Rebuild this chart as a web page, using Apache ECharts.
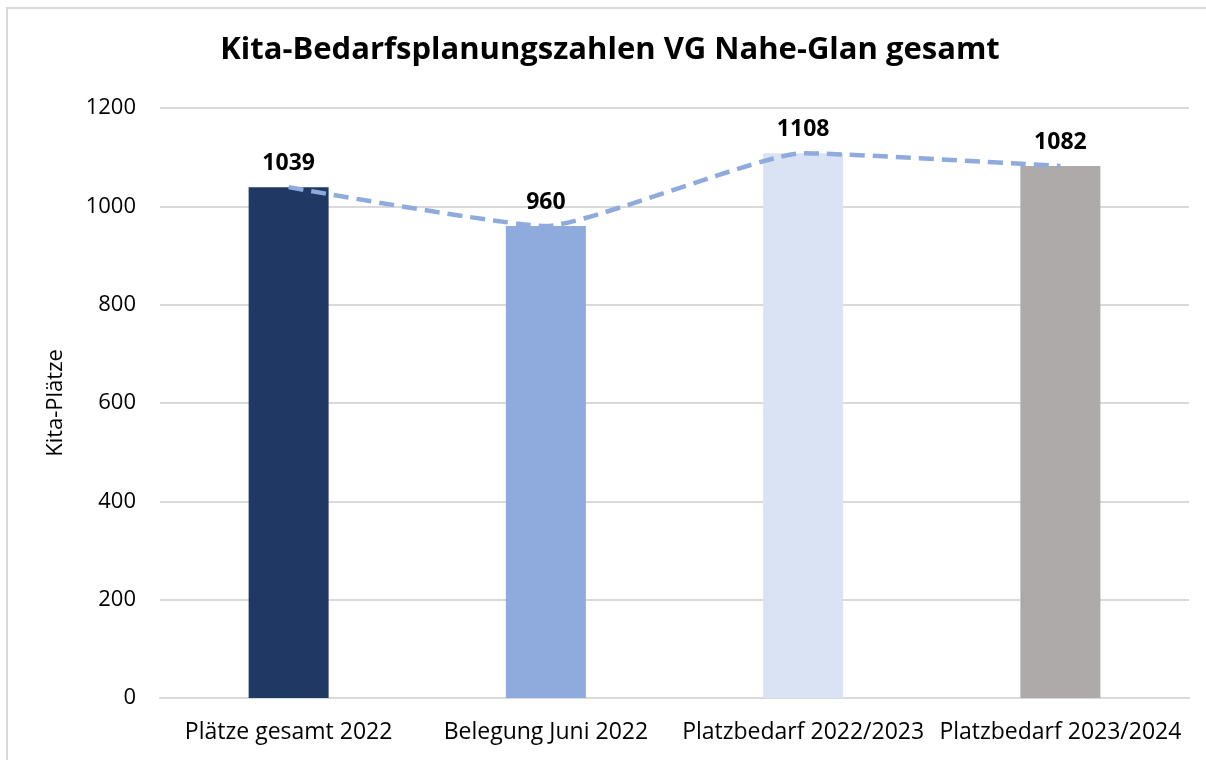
<!DOCTYPE html>
<html>
<head>
<meta charset="utf-8">
<script src="https://cdn.jsdelivr.net/npm/echarts@6/dist/echarts.min.js"></script>
<style>
  html, body { margin: 0; padding: 0; background: #fff; }
  #chart { width: 1206px; height: 760px; }
</style>
</head>
<body>
<div id="chart"></div>
<script>
  // data
  var categories = ['Plätze gesamt 2022', 'Belegung Juni 2022', 'Platzbedarf 2022/2023', 'Platzbedarf 2023/2024'];
  var placeValues = [1039, 960, 1108, 1082];
  var trendValues = [1039, 960, 1108, 1082];
  var yTicks = [0, 200, 400, 600, 800, 1000, 1200];

  var barColors = ['#203864', '#8faadc', '#dae3f3', '#aeaaaa'];
  var fontFam = '"Open Sans", "Liberation Sans", sans-serif';

  var chart = echarts.init(document.getElementById('chart'));
  chart.setOption({
    animation: false,
    graphic: [{
      type: 'rect',
      shape: { x: 7, y: 8, width: 1220, height: 780 },
      style: { fill: 'none', stroke: '#d9d9d9', lineWidth: 2 },
      silent: true
    }],
    title: {
      text: 'Kita-Bedarfsplanungszahlen VG Nahe-Glan gesamt',
      left: 605,
      top: 30,
      textAlign: 'center',
      textStyle: { fontFamily: fontFam, fontSize: 31, fontWeight: 'bold', color: '#000' }
    },
    grid: { left: 160, right: 17, top: 108, bottom: 62 },
    xAxis: {
      type: 'category',
      data: categories,
      axisLine: { show: true, lineStyle: { color: '#d9d9d9', width: 2 } },
      axisTick: { show: false },
      axisLabel: { interval: 0, margin: 23, fontFamily: fontFam, fontSize: 23, color: '#000' }
    },
    yAxis: {
      type: 'value',
      min: yTicks[0],
      max: yTicks[yTicks.length - 1],
      interval: 200,
      name: 'Kita-Plätze',
      nameLocation: 'middle',
      nameRotate: 90,
      nameGap: 93,
      nameTextStyle: { fontFamily: fontFam, fontSize: 22, color: '#000' },
      axisLine: { show: false },
      axisTick: { show: false },
      axisLabel: {
        margin: 24,
        fontFamily: fontFam,
        fontSize: 22,
        color: '#000',
        formatter: function (v) { return String(v); }
      },
      splitLine: { lineStyle: { color: '#d9d9d9', width: 2 } }
    },
    series: [
      {
        name: 'Kita-Plätze',
        type: 'bar',
        barWidth: 80,
        data: placeValues.map(function (v, i) {
          return { value: v, itemStyle: { color: barColors[i] } };
        }),
        label: {
          show: true,
          position: 'top',
          distance: 12,
          fontFamily: fontFam,
          fontSize: 23,
          fontWeight: 'bold',
          color: '#000'
        }
      },
      {
        name: 'Trend',
        type: 'line',
        smooth: 0.15,
        symbol: 'none',
        data: trendValues,
        lineStyle: { color: '#8faadc', width: 4.5, type: [15, 8] },
        z: 3
      }
    ]
  });
</script>
</body>
</html>
